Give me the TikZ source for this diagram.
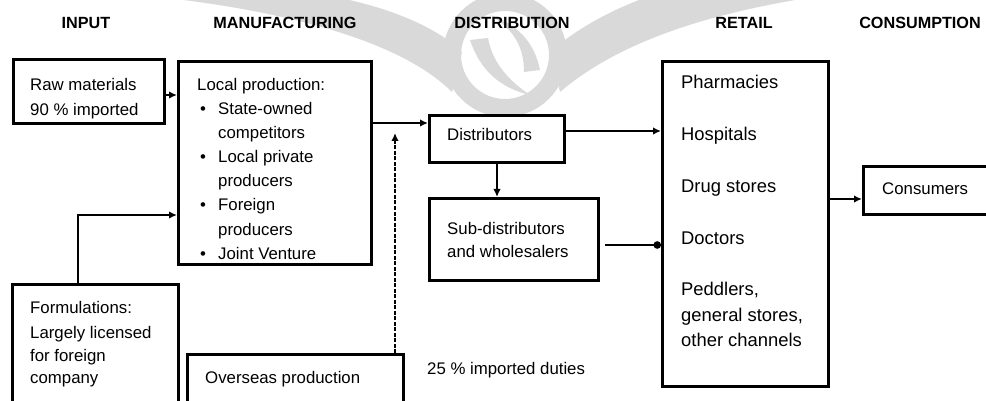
\documentclass[tikz,border=0pt]{standalone}
\usepackage{fontspec}
\setmainfont{Liberation Sans}
\usetikzlibrary{arrows.meta}
\begin{document}
\begin{tikzpicture}[x=1pt,y=-1pt]
\tikzset{
  boxnode/.style={draw=black, line width=3pt, inner sep=0pt, anchor=north west},
  txt/.style={anchor=base west, inner sep=0pt, font=\fontsize{16.8}{20}\selectfont},
  bigtxt/.style={anchor=base west, inner sep=0pt, font=\fontsize{18.4}{22}\selectfont},
  hdr/.style={anchor=base, inner sep=0pt, font=\fontsize{16.2}{20}\selectfont\bfseries},
  conn/.style={line width=2pt, -{Latex[length=8pt,width=7.5pt]}},
  dotconn/.style={line width=2pt, -{Circle[length=7.5pt]}},
  dashconn/.style={line width=1.8pt, dash pattern=on 4pt off 1.5pt, -{Latex[length=8pt,width=7.5pt]}},
  wm/.style={fill=black!15, draw=none}
}
\clip (0,0) rectangle (986,401);
\fill[white] (0,0) rectangle (986,401);

% faint emblem in the background, upper middle
\fill[wm, even odd rule] (505,55) circle[radius=62] (505,55) circle[radius=44];
% left wing
\fill[wm] (452,92) .. controls (405,45) and (300,12) .. (150,-4)
          -- (330,-4) .. controls (395,8) and (440,30) .. (462,52) -- cycle;
% right wing
\fill[wm] (560,92) .. controls (615,45) and (700,14) .. (820,-4)
          -- (650,-4) .. controls (610,10) and (575,30) .. (550,52) -- cycle;
% swirls inside the ring
\fill[wm] (470,40) .. controls (480,70) and (500,88) .. (530,95)
          .. controls (505,78) and (492,60) .. (488,38) -- cycle;
\fill[wm] (540,70) .. controls (535,45) and (520,25) .. (490,15)
          .. controls (515,30) and (524,48) .. (524,72) -- cycle;

% column headings
\node[hdr] (hin)  at (86,29)  {INPUT};
\node[hdr] (hman) at (285,29) {MANUFACTURING};
\node[hdr] (hdis) at (512,29) {DISTRIBUTION};
\node[hdr] (hret) at (744,29) {RETAIL};
\node[hdr] (hcon) at (920,29) {CONSUMPTION};

% boxes
\node[boxnode, minimum width=151pt, minimum height=64pt]  (raw)      at (12,58)   {};
\node[boxnode, minimum width=193pt, minimum height=203pt] (local)    at (177,60)  {};
\node[boxnode, minimum width=166pt, minimum height=140pt] (form)     at (11,283)  {};
\node[boxnode, minimum width=216pt, minimum height=70pt]  (overseas) at (186,353) {};
\node[boxnode, minimum width=135pt, minimum height=47pt]  (dist)     at (428,114) {};
\node[boxnode, minimum width=169pt, minimum height=82pt]  (sub)      at (428,197) {};
\node[boxnode, minimum width=166pt, minimum height=325pt] (retail)   at (661,60)  {};
\node[boxnode, minimum width=150pt, minimum height=48pt]  (cons)     at (862,165) {};

% box texts
\node[txt] (raw1) at (30,91)  {Raw materials};
\node[txt] (raw2) at (30,116) {90 \% imported};

\node[txt] (loc0) at (197,91)  {Local production:};
\node[txt] (loc1) at (200,115) {\makebox[18pt][l]{\textbullet}State-owned};
\node[txt] (loc2) at (218,139) {competitors};
\node[txt] (loc3) at (200,163) {\makebox[18pt][l]{\textbullet}Local private};
\node[txt] (loc4) at (218,187) {producers};
\node[txt] (loc5) at (200,211) {\makebox[18pt][l]{\textbullet}Foreign};
\node[txt] (loc6) at (218,235) {producers};
\node[txt] (loc7) at (200,259) {\makebox[18pt][l]{\textbullet}Joint Venture};

\node[txt] (for1) at (30,313) {Formulations:};
\node[txt] (for2) at (30,338) {Largely licensed};
\node[txt] (for3) at (30,361) {for foreign};
\node[txt] (for4) at (30,383) {company};

\node[txt] (ovt)  at (205,383) {Overseas production};
\node[txt] (duty) at (427,374) {25 \% imported duties};

\node[txt] (dst)  at (447,141) {Distributors};
\node[txt] (sub1) at (447,234) {Sub-distributors};
\node[txt] (sub2) at (447,258) {and wholesalers};

\node[bigtxt] (ret1) at (681,89)  {Pharmacies};
\node[bigtxt] (ret2) at (681,141) {Hospitals};
\node[bigtxt] (ret3) at (681,193) {Drug stores};
\node[bigtxt] (ret4) at (681,244) {Doctors};
\node[bigtxt] (ret5) at (681,295) {Peddlers,};
\node[bigtxt] (ret6) at (681,321) {general stores,};
\node[bigtxt] (ret7) at (681,346) {other channels};

\node[txt] (cst) at (882,194) {Consumers};

% connectors
\coordinate (rawy) at (0,95);
\draw[conn] (raw.east |- rawy) -- (local.west |- rawy);

\coordinate (fturn) at (78,215);
\draw[conn] (form.north -| fturn) -- (fturn) -- (fturn -| local.west);

\coordinate (ly) at (0,123);
\draw[conn] (local.east |- ly) -- (dist.west |- ly);

\coordinate (ovtip) at (395,133);
\draw[dashconn] (ovtip |- overseas.north) -- (ovtip);

\draw[conn] (dist.south) -- (dist.south |- sub.north);

\coordinate (dy) at (0,131);
\draw[conn] (dist.east |- dy) -- (retail.west |- dy);

\coordinate (sy) at (0,245);
\draw[dotconn, shorten <=5pt] (sub.east |- sy) -- (retail.west |- sy);

\coordinate (cy) at (0,199);
\draw[conn] (retail.east |- cy) -- (cons.west |- cy);
\end{tikzpicture}
\end{document}
